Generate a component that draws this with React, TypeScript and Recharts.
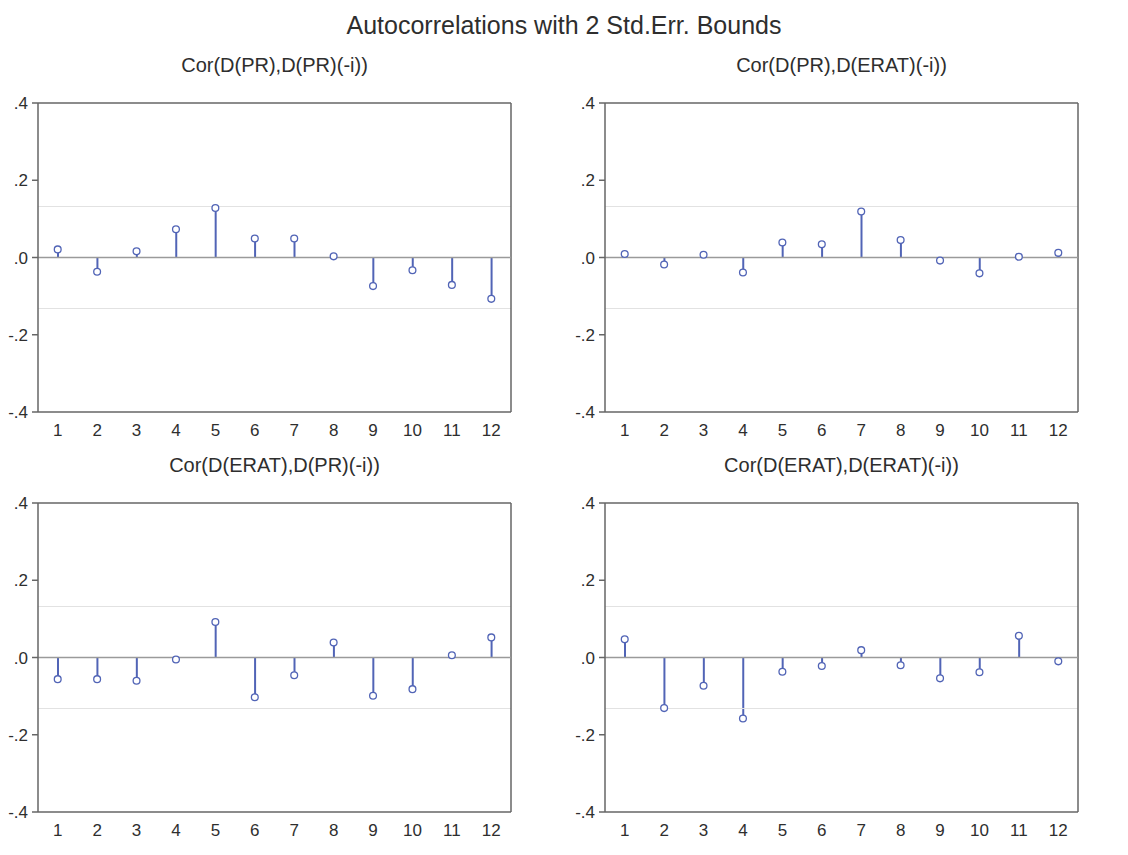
import React from "react";
import {
  ComposedChart,
  Bar,
  Line,
  XAxis,
  YAxis,
  ReferenceLine,
} from "recharts";

const lags = [1, 2, 3, 4, 5, 6, 7, 8, 9, 10, 11, 12];
const corPrPr = [0.021, -0.037, 0.016, 0.073, 0.128, 0.049, 0.049, 0.003, -0.074, -0.033, -0.071, -0.107];
const corPrErat = [0.009, -0.018, 0.007, -0.039, 0.039, 0.034, 0.119, 0.045, -0.008, -0.041, 0.002, 0.012];
const corEratPr = [-0.056, -0.056, -0.06, -0.005, 0.092, -0.103, -0.046, 0.039, -0.099, -0.082, 0.006, 0.052];
const corEratErat = [0.047, -0.131, -0.073, -0.158, -0.037, -0.022, 0.019, -0.02, -0.054, -0.038, 0.056, -0.01];
const stdErrBound = 0.132;
const yTicks = [-0.4, -0.2, 0, 0.2, 0.4];
const boundaryTicks = [0.5, 1.5, 2.5, 3.5, 4.5, 5.5, 6.5, 7.5, 8.5, 9.5, 10.5, 11.5, 12.5];

const mainTitle = "Autocorrelations with 2 Std.Err. Bounds";
const panelTitles = [
  "Cor(D(PR),D(PR)(-i))",
  "Cor(D(PR),D(ERAT)(-i))",
  "Cor(D(ERAT),D(PR)(-i))",
  "Cor(D(ERAT),D(ERAT)(-i))",
];

const FONT = "'Liberation Sans', Arial, sans-serif";
const STEM = "#5164b6";
const AXIS = "#666666";
const TEXT = "#2e2e2e";

const fmtY = (v: number) => {
  if (v === 0) return ".0";
  const s = Math.abs(v).toFixed(1).replace(/^0/, "");
  return v < 0 ? "-" + s : s;
};

type PanelProps = { values: number[]; left: number; top: number; yAxisWidth: number; title: string };

function Panel({ values, left, top, yAxisWidth, title }: PanelProps) {
  const data = lags.map((lag, i) => ({ lag, v: values[i] }));
  const width = yAxisWidth + 473 + 50;
  const plotLeft = left + yAxisWidth;
  return (
    <>
      <div
        style={{
          position: "absolute",
          left: plotLeft - 20,
          width: 513,
          top: top - 36,
          textAlign: "center",
          fontFamily: FONT,
          fontSize: 20,
          color: TEXT,
          whiteSpace: "nowrap",
        }}
      >
        {title}
      </div>
      <div style={{ position: "absolute", left, top }}>
        <ComposedChart
          width={width}
          height={360}
          data={data}
          margin={{ top: 13, right: 50, bottom: 6, left: 0 }}
        >
          <XAxis
            xAxisId={0}
            type="number"
            dataKey="lag"
            domain={[0.5, 12.5]}
            ticks={boundaryTicks}
            interval={0}
            tick={false}
            tickSize={7}
            height={7}
            stroke={AXIS}
            strokeWidth={1.5}
            allowDataOverflow
          />
          <XAxis
            xAxisId="lbl"
            type="number"
            dataKey="lag"
            domain={[0.5, 12.5]}
            ticks={lags}
            interval={0}
            axisLine={false}
            tickLine={false}
            tickSize={0}
            tickMargin={5}
            height={25}
            tick={{ fill: TEXT, fontSize: 17, fontFamily: FONT }}
            allowDataOverflow
          />
          <YAxis
            type="number"
            domain={[-0.4, 0.4]}
            ticks={yTicks}
            interval={0}
            tickFormatter={fmtY}
            width={yAxisWidth}
            tickSize={6}
            tickMargin={4}
            stroke={AXIS}
            strokeWidth={1.5}
            tick={{ fill: TEXT, fontSize: 17, fontFamily: FONT }}
            allowDataOverflow
          />
          <ReferenceLine y={stdErrBound} stroke="#e2e2e2" strokeWidth={1} />
          <ReferenceLine y={-stdErrBound} stroke="#e2e2e2" strokeWidth={1} />
          <ReferenceLine y={0.4} stroke={AXIS} strokeWidth={1.5} />
          <ReferenceLine x={12.5} stroke={AXIS} strokeWidth={1.5} />
          <Bar dataKey="v" barSize={2} fill={STEM} isAnimationActive={false} />
          <ReferenceLine y={0} stroke="#9a9a9a" strokeWidth={1.5} />
          <Line
            dataKey="v"
            stroke="none"
            isAnimationActive={false}
            dot={{ r: 3.4, fill: "#ffffff", stroke: STEM, strokeWidth: 1.3 }}
            activeDot={false}
          />
        </ComposedChart>
      </div>
    </>
  );
}

export default function App() {
  return (
    <div
      style={{
        position: "absolute",
        left: 0,
        top: 0,
        width: 1128,
        height: 855,
        background: "#ffffff",
        overflow: "hidden",
      }}
    >
      <div
        style={{
          position: "absolute",
          left: 0,
          width: 1128,
          top: 11,
          textAlign: "center",
          fontFamily: FONT,
          fontSize: 25,
          color: TEXT,
        }}
      >
        {mainTitle}
      </div>
      <Panel values={corPrPr} left={0} top={90} yAxisWidth={38} title={panelTitles[0]} />
      <Panel values={corPrErat} left={560} top={90} yAxisWidth={45} title={panelTitles[1]} />
      <Panel values={corEratPr} left={0} top={490} yAxisWidth={38} title={panelTitles[2]} />
      <Panel values={corEratErat} left={560} top={490} yAxisWidth={45} title={panelTitles[3]} />
    </div>
  );
}
